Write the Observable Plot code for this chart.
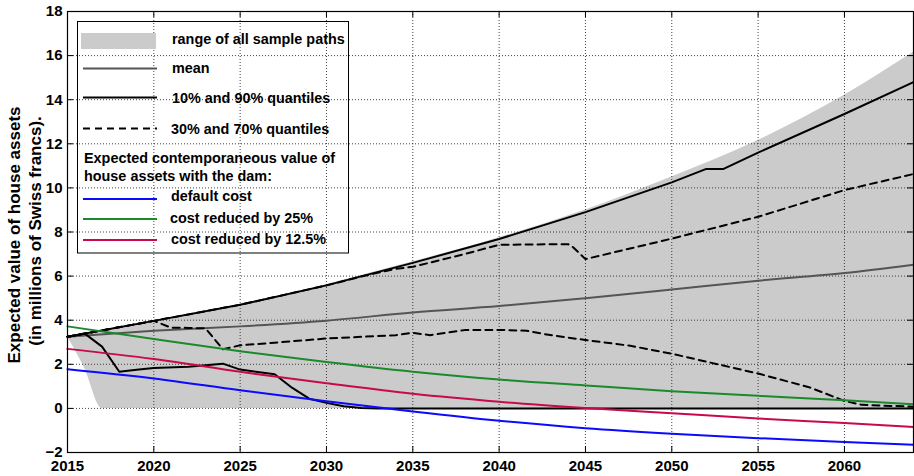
<!DOCTYPE html>
<html>
<head>
<meta charset="utf-8">
<script src="https://cdn.jsdelivr.net/npm/d3@7"></script>
<script src="https://cdn.jsdelivr.net/npm/@observablehq/plot@0.6"></script>
<style>
  body { margin: 0; background: #fff; }
  #chart { position: relative; width: 914px; height: 476px; }
</style>
</head>
<body>
<div id="chart"></div>
<script>
// Axis ticks
const xTicks = [2015, 2020, 2025, 2030, 2035, 2040, 2045, 2050, 2055, 2060];
const yTicks = [-2, 0, 2, 4, 6, 8, 10, 12, 14, 16, 18];

// Smooth expected-value curves (millions of CHF)
const smoothYears = [2015, 2020, 2025, 2030, 2035, 2040, 2045, 2050, 2055, 2060, 2064];
const meanValue      = [3.25, 3.52, 3.72, 3.98, 4.35, 4.64, 5.0, 5.39, 5.79, 6.14, 6.52];
const defaultCost    = [1.78, 1.36, 0.82, 0.32, -0.14, -0.56, -0.9, -1.15, -1.35, -1.52, -1.65];
const costReduced25  = [3.72, 3.15, 2.59, 2.1, 1.66, 1.31, 1.04, 0.78, 0.57, 0.37, 0.19];
const costReduced125 = [2.7, 2.24, 1.66, 1.14, 0.66, 0.3, 0.02, -0.22, -0.46, -0.66, -0.84];

// Range of all sample paths
const rangeYears = [2015, 2016, 2017, 2020, 2025, 2030, 2035, 2040, 2045, 2050, 2055, 2060, 2064];
const rangeLow   = [3.25, 1.8, 0, 0, 0, 0, 0, 0, 0, 0, 0, 0, 0];
const rangeHigh  = [3.25, 3.4, 3.55, 3.97, 4.72, 5.62, 6.65, 7.74, 9.0, 10.5, 12.15, 14.2, 16.15];

// 90% quantile
const q90Years = [2015, 2020, 2025, 2030, 2035, 2040, 2045, 2050, 2052, 2053, 2055, 2060, 2064];
const q90      = [3.25, 3.97, 4.7, 5.58, 6.6, 7.68, 8.9, 10.25, 10.86, 10.86, 11.6, 13.35, 14.8];

// 10% quantile
const q10Years = [2015, 2016, 2017, 2018, 2019, 2020, 2022, 2024, 2025, 2027, 2028, 2029, 2030, 2031, 2032, 2033, 2064];
const q10      = [3.25, 3.39, 2.8, 1.66, 1.75, 1.83, 1.89, 2.03, 1.76, 1.55, 0.94, 0.44, 0.25, 0.1, 0.02, 0, 0];

// 70% quantile
const q70Years = [2015, 2020, 2025, 2030, 2032, 2034, 2035, 2038, 2040, 2044, 2044.3, 2045, 2050, 2055, 2060, 2064];
const q70      = [3.25, 3.97, 4.7, 5.58, 5.98, 6.33, 6.42, 7.0, 7.42, 7.45, 7.3, 6.77, 7.7, 8.69, 9.9, 10.63];

// 30% quantile
const q30Years = [2015, 2020, 2021, 2022, 2023, 2024, 2025, 2027, 2030, 2034, 2035, 2036, 2038, 2040, 2041.6, 2042.6, 2045, 2047.6, 2050, 2055, 2058, 2060, 2061, 2064];
const q30      = [3.25, 3.97, 3.66, 3.65, 3.63, 2.68, 2.86, 2.98, 3.17, 3.32, 3.43, 3.32, 3.55, 3.56, 3.52, 3.37, 3.1, 2.84, 2.48, 1.58, 0.95, 0.34, 0.16, 0.08];

const rows = (xs, ys) => xs.map((x, i) => ({x, y: ys[i]}));
const rangeRows = rangeYears.map((x, i) => ({x, lo: rangeLow[i], hi: rangeHigh[i]}));

const W = 914, H = 476;
const mL = 67, mR = 1, mT = 11, mB = 24;
const innerW = W - mL - mR, innerH = H - mT - mB;
const TICK = 6;

const GRAY = "#cbcbcb";
const MEAN = "#555555";
const BLUE = "#0a0aff";
const GREEN = "#1a8a2a";
const CRIMSON = "#c8094f";
const FONT = "'Liberation Sans', Arial, Helvetica, sans-serif";

const gridStyle = {stroke: "#222", strokeOpacity: 0.85, strokeWidth: 1, strokeDasharray: "1,2"};

const chart = Plot.plot({
  width: W,
  height: H,
  marginLeft: mL,
  marginRight: mR,
  marginTop: mT,
  marginBottom: mB,
  style: {fontFamily: FONT, color: "#000", background: "#fff", overflow: "visible"},
  x: {domain: [2015, 2064], label: null},
  y: {domain: [-2, 18], label: null},
  marks: [
    Plot.areaY(rangeRows, {x: "x", y1: "lo", y2: "hi", fill: GRAY, curve: "monotone-x"}),
    Plot.gridX(xTicks, gridStyle),
    Plot.gridY(yTicks, gridStyle),
    Plot.line(rows(smoothYears, meanValue), {x: "x", y: "y", stroke: MEAN, strokeWidth: 2, curve: "monotone-x"}),
    Plot.line(rows(q70Years, q70), {x: "x", y: "y", stroke: "#000", strokeWidth: 2, strokeDasharray: "7,5"}),
    Plot.line(rows(q30Years, q30), {x: "x", y: "y", stroke: "#000", strokeWidth: 2, strokeDasharray: "7,5"}),
    Plot.line(rows(q90Years, q90), {x: "x", y: "y", stroke: "#000", strokeWidth: 2}),
    Plot.line(rows(q10Years, q10), {x: "x", y: "y", stroke: "#000", strokeWidth: 2}),
    Plot.line(rows(smoothYears, costReduced25), {x: "x", y: "y", stroke: GREEN, strokeWidth: 2, curve: "monotone-x"}),
    Plot.line(rows(smoothYears, costReduced125), {x: "x", y: "y", stroke: CRIMSON, strokeWidth: 2, curve: "monotone-x"}),
    Plot.line(rows(smoothYears, defaultCost), {x: "x", y: "y", stroke: BLUE, strokeWidth: 2, curve: "monotone-x"}),
    // inward tick marks on all four sides
    Plot.tickX(xTicks, {x: d => d, stroke: "#000", insetTop: innerH - TICK}),
    Plot.tickX(xTicks, {x: d => d, stroke: "#000", insetBottom: innerH - TICK}),
    Plot.tickY(yTicks, {y: d => d, stroke: "#000", insetRight: innerW - TICK}),
    Plot.tickY(yTicks, {y: d => d, stroke: "#000", insetLeft: innerW - TICK}),
    Plot.frame({stroke: "#000", strokeWidth: 1.2}),
    Plot.axisX({ticks: xTicks, tickSize: 0, tickPadding: 8, tickFormat: d => String(d), fontSize: 15, fontWeight: "bold"}),
    Plot.axisY({ticks: yTicks, tickSize: 0, tickPadding: 5, fontSize: 15, fontWeight: "bold"})
  ]
});

document.getElementById("chart").appendChild(chart);

const svg = d3.select(chart);

// y-axis title, two rotated lines
const yTitle = [
  {text: "Expected value of house assets", x: 20, y: 235},
  {text: "(in millions of Swiss francs).", x: 41, y: 231}
];
svg.append("g")
  .attr("font-family", FONT)
  .attr("font-weight", "bold")
  .attr("font-size", 17)
  .attr("text-anchor", "middle")
  .selectAll("text")
  .data(yTitle)
  .join("text")
  .attr("transform", d => `translate(${d.x},${d.y}) rotate(-90)`)
  .attr("fill", "#000")
  .text(d => d.text);

// legend
const lg = svg.append("g")
  .attr("font-family", FONT)
  .attr("font-weight", "bold")
  .attr("font-size", 14.4)
  .attr("text-anchor", "start")
  .attr("fill", "#000");

lg.append("rect")
  .attr("x", 77.5).attr("y", 21.5)
  .attr("width", 271).attr("height", 231.5)
  .attr("fill", "none").attr("stroke", "#000").attr("stroke-width", 1);

lg.append("rect")
  .attr("x", 81).attr("y", 33)
  .attr("width", 75).attr("height", 16)
  .attr("fill", GRAY);

const legendLines = [
  {y: 68.5, stroke: MEAN, dash: null},
  {y: 97.5, stroke: "#000", dash: null},
  {y: 128.5, stroke: "#000", dash: "7,5"},
  {y: 199, stroke: BLUE, dash: null},
  {y: 219, stroke: GREEN, dash: null},
  {y: 240, stroke: CRIMSON, dash: null}
];
lg.selectAll("line.entry")
  .data(legendLines)
  .join("line")
  .attr("class", "entry")
  .attr("x1", 83).attr("x2", 157)
  .attr("y1", d => d.y).attr("y2", d => d.y)
  .attr("stroke", d => d.stroke)
  .attr("stroke-width", 2)
  .attr("stroke-dasharray", d => d.dash);

const legendTexts = [
  {text: "range of all sample paths", x: 172, y: 44},
  {text: "mean", x: 172, y: 73},
  {text: "10% and 90% quantiles", x: 172, y: 103},
  {text: "30% and 70% quantiles", x: 171, y: 133.5},
  {text: "Expected contemporaneous value of", x: 84, y: 163},
  {text: "house assets with the dam:", x: 84, y: 180.5},
  {text: "default cost", x: 171, y: 201},
  {text: "cost reduced by 25%", x: 170, y: 222.5},
  {text: "cost reduced by 12.5%", x: 171, y: 244}
];
lg.selectAll("text")
  .data(legendTexts)
  .join("text")
  .attr("x", d => d.x)
  .attr("y", d => d.y)
  .text(d => d.text);
</script>
</body>
</html>
